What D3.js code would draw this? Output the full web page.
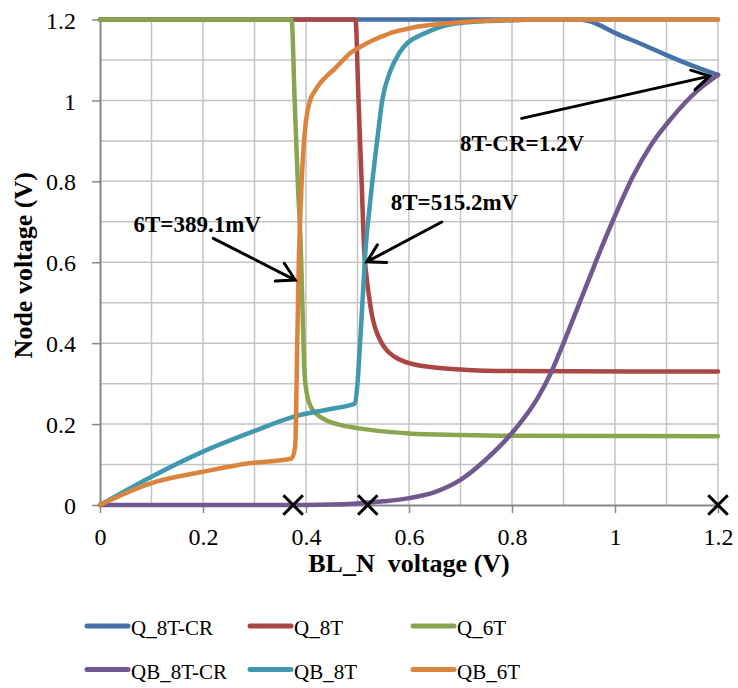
<!DOCTYPE html>
<html><head><meta charset="utf-8">
<script src="https://cdn.jsdelivr.net/npm/d3@7"></script>
<style>body{margin:0;background:#fff}svg{display:block}</style>
</head><body>
<script>
// ---- data ----
const xTicks = [0, 0.2, 0.4, 0.6, 0.8, 1, 1.2];
const yTicks = [0, 0.2, 0.4, 0.6, 0.8, 1, 1.2];
const gridValues = [0.1, 0.2, 0.3, 0.4, 0.5, 0.6, 0.7, 0.8, 0.9, 1.0, 1.1, 1.2];
const seriesNames = ["Q_8T-CR", "Q_8T", "Q_6T", "QB_8T-CR", "QB_8T", "QB_6T"];
const seriesColors = ["#4572A7", "#AA4643", "#89A54E", "#71588F", "#4198AF", "#DB843D"];

const xQ8TCR = [0, 0.5, 0.93, 0.95, 0.975, 1.0, 1.05, 1.1, 1.15, 1.2];
const yQ8TCR = [1.2, 1.2, 1.2, 1.196, 1.183, 1.167, 1.14, 1.112, 1.086, 1.063];

const xQ8T = [0, 0.496, 0.502, 0.508, 0.513, 0.518, 0.523, 0.528, 0.535, 0.545, 0.555, 0.57, 0.59, 0.615, 0.65, 0.7, 0.8, 1.2];
const yQ8T = [1.2, 1.2, 1.0, 0.8, 0.63, 0.56, 0.51, 0.47, 0.435, 0.405, 0.385, 0.368, 0.355, 0.346, 0.34, 0.335, 0.331, 0.33];

const xQ6T = [0, 0.372, 0.378, 0.384, 0.39, 0.394, 0.397, 0.401, 0.407, 0.415, 0.425, 0.44, 0.46, 0.5, 0.55, 0.6, 0.7, 0.8, 1.2];
const yQ6T = [1.2, 1.2, 1.0, 0.8, 0.63, 0.45, 0.33, 0.28, 0.25, 0.232, 0.22, 0.209, 0.2, 0.19, 0.182, 0.177, 0.173, 0.171, 0.17];

const xQB8TCR = [0, 0.4, 0.45, 0.5, 0.55, 0.6, 0.65, 0.7, 0.75, 0.8, 0.85, 0.875, 0.9, 0.925, 0.95, 0.975, 1.0, 1.036, 1.07, 1.107, 1.159, 1.2];
const yQB8TCR = [0, 0, 0.001, 0.004, 0.009, 0.017, 0.032, 0.062, 0.113, 0.178, 0.265, 0.325, 0.4, 0.48, 0.56, 0.64, 0.715, 0.815, 0.89, 0.952, 1.023, 1.063];

const xQB8T = [0, 0.1, 0.2, 0.3, 0.375, 0.45, 0.495, 0.5, 0.505, 0.51, 0.515, 0.525, 0.54, 0.548, 0.563, 0.58, 0.596, 0.62, 0.641, 0.67, 0.705, 0.75, 0.8, 0.85, 1.2];
const yQB8T = [0, 0.07, 0.132, 0.183, 0.218, 0.238, 0.251, 0.3, 0.4, 0.51, 0.62, 0.754, 0.92, 1.0, 1.07, 1.115, 1.141, 1.16, 1.172, 1.185, 1.192, 1.196, 1.198, 1.2, 1.2];

const xQB6T = [0, 0.1, 0.2, 0.29, 0.372, 0.379, 0.383, 0.386, 0.39, 0.395, 0.4, 0.408, 0.417, 0.427, 0.44, 0.453, 0.47, 0.485, 0.505, 0.524, 0.545, 0.563, 0.59, 0.615, 0.66, 0.705, 0.75, 0.8, 0.85, 1.2];
const yQB6T = [0, 0.054, 0.082, 0.103, 0.115, 0.144, 0.4, 0.6, 0.75, 0.88, 0.95, 1.0, 1.023, 1.042, 1.06, 1.075, 1.097, 1.116, 1.132, 1.145, 1.157, 1.166, 1.175, 1.182, 1.189, 1.194, 1.197, 1.199, 1.2, 1.2];

const markerX = [0.375, 0.52, 1.2];
const markerY = [0, 0, 0];

const annotTexts = ["6T=389.1mV", "8T=515.2mV", "8T-CR=1.2V"];
const annotX = [0.065, 0.5645, 0.699];
const annotY = [0.676, 0.729, 0.876];
const arrowFromX = [0.22, 0.6635, 0.8188];
const arrowFromY = [0.659, 0.6995, 0.9557];
const arrowToX = [0.379, 0.518, 1.184];
const arrowToY = [0.556, 0.601, 1.06];

// ---- chart ----
const W = 738, H = 688;
const FONT = "'Liberation Serif','Times New Roman',serif";
const svg = d3.select("body").append("svg").attr("width", W).attr("height", H);
const x = d3.scaleLinear().domain([0, 1.2]).range([100, 718]);
const y = d3.scaleLinear().domain([0, 1.2]).range([505, 19.5]);

// grid
const grid = svg.append("g").attr("stroke", "#c3c3c3").attr("stroke-width", 1.5);
grid.selectAll(".gv").data(gridValues).enter().append("line")
  .attr("x1", d => x(d)).attr("x2", d => x(d)).attr("y1", y(0)).attr("y2", y(1.2));
grid.selectAll(".gh").data(gridValues).enter().append("line")
  .attr("x1", x(0)).attr("x2", x(1.2)).attr("y1", d => y(d)).attr("y2", d => y(d));

const fmt = d => String(+d.toFixed(1));
const axColor = "#878787";

const gx = svg.append("g").attr("transform", `translate(0,${y(0)})`)
  .call(d3.axisBottom(x).tickValues(xTicks).tickFormat(fmt).tickSize(8).tickSizeOuter(0).tickPadding(15));
const gy = svg.append("g").attr("transform", `translate(${x(0)},0)`)
  .call(d3.axisLeft(y).tickValues(yTicks).tickFormat(fmt).tickSize(8).tickSizeOuter(0).tickPadding(16));
[gx, gy].forEach(g => {
  g.select(".domain").attr("stroke", axColor).attr("stroke-width", 2);
  g.selectAll(".tick line").attr("stroke", axColor).attr("stroke-width", 1.5);
  g.selectAll(".tick text").attr("fill", "#000").style("font-family", FONT).style("font-size", "24px");
});
gy.selectAll(".tick text").attr("dy", "0.36em");

// series
const seriesX = [xQ8TCR, xQ8T, xQ6T, xQB8TCR, xQB8T, xQB6T];
const seriesY = [yQ8TCR, yQ8T, yQ6T, yQB8TCR, yQB8T, yQB6T];
const line = d3.line().x(d => x(d[0])).y(d => y(d[1])).curve(d3.curveMonotoneX);
seriesNames.forEach((name, i) => {
  const pts = seriesX[i].map((v, j) => [v, seriesY[i][j]]);
  svg.append("path").datum(pts).attr("d", line)
    .attr("fill", "none").attr("stroke", seriesColors[i]).attr("stroke-width", 4.5)
    .attr("stroke-linejoin", "round").attr("stroke-linecap", "round");
});

// markers
const sym = d3.symbol().type(d3.symbolX).size(250);
svg.selectAll(".mk").data(markerX).enter().append("path")
  .attr("d", sym).attr("transform", (d, i) => `translate(${x(d)},${y(markerY[i])})`)
  .attr("fill", "none").attr("stroke", "#000").attr("stroke-width", 3);

// annotations
annotTexts.forEach((t, i) => {
  svg.append("text").attr("x", x(annotX[i])).attr("y", y(annotY[i]))
    .style("font-family", FONT).style("font-size", "23px").style("font-weight", "bold")
    .text(t);
  const x1 = x(arrowFromX[i]), y1 = y(arrowFromY[i]), x2 = x(arrowToX[i]), y2 = y(arrowToY[i]);
  const ang = Math.atan2(y1 - y2, x1 - x2);
  const L = 20, a = Math.PI / 6;
  const p = d3.path();
  p.moveTo(x1, y1); p.lineTo(x2, y2);
  p.moveTo(x2 + L * Math.cos(ang + a), y2 + L * Math.sin(ang + a));
  p.lineTo(x2, y2);
  p.lineTo(x2 + L * Math.cos(ang - a), y2 + L * Math.sin(ang - a));
  svg.append("path").attr("d", p.toString()).attr("fill", "none")
    .attr("stroke", "#000").attr("stroke-width", 3).attr("stroke-linecap", "round").attr("stroke-linejoin", "miter");
});

// axis titles
svg.append("text").attr("x", (x(0) + x(1.2)) / 2).attr("y", 572)
  .attr("text-anchor", "middle").style("white-space", "pre")
  .style("font-family", FONT).style("font-size", "26px").style("font-weight", "bold")
  .text("BL_N  voltage (V)");
svg.append("text").attr("transform", `translate(32,${(y(0) + y(1.2)) / 2 + 3}) rotate(-90)`)
  .attr("text-anchor", "middle")
  .style("font-family", FONT).style("font-size", "26px").style("font-weight", "bold")
  .text("Node voltage (V)");

// legend
const legCols = [87, 250, 413], legRows = [626, 669.5];
seriesNames.forEach((name, i) => {
  const cx = legCols[i % 3], cy = legRows[Math.floor(i / 3)];
  svg.append("line").attr("x1", cx).attr("x2", cx + 41).attr("y1", cy).attr("y2", cy)
    .attr("stroke", seriesColors[i]).attr("stroke-width", 5).attr("stroke-linecap", "round");
  svg.append("text").attr("x", cx + 44).attr("y", cy + 9)
    .style("font-family", FONT).style("font-size", "21px").text(name);
});
</script>
</body></html>
